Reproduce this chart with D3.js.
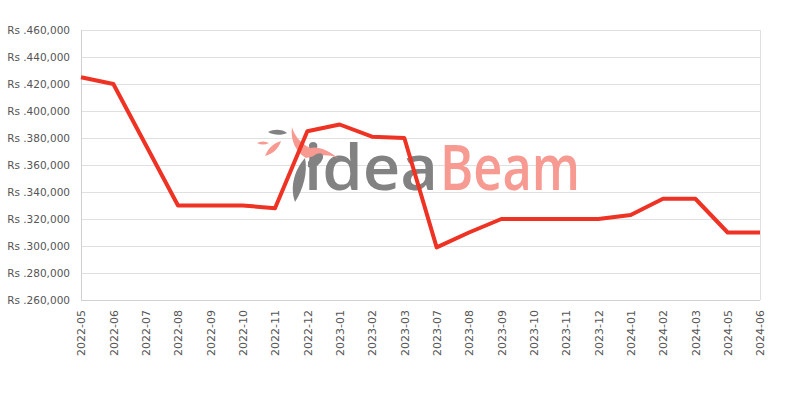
<!DOCTYPE html>
<html><head><meta charset="utf-8">
<script src="https://cdn.jsdelivr.net/npm/d3@7"></script>
<style>body{margin:0;background:#fff}</style>
</head><body>
<svg id="c" width="800" height="400"></svg>
<script>
const categories = ["2022-05","2022-06","2022-07","2022-08","2022-09","2022-10","2022-11","2022-12","2023-01","2023-02","2023-03","2023-07","2023-08","2023-09","2023-10","2023-11","2023-12","2024-01","2024-02","2024-03","2024-05","2024-06"];
const prices = [425000,420000,375000,330000,330000,330000,328000,385000,390000,381000,380000,299000,310000,320000,320000,320000,320000,323000,335000,335000,310000,310000];
const yTicks = [260000,280000,300000,320000,340000,360000,380000,400000,420000,440000,460000];

const svg = d3.select("#c");
const m = {l:81, r:760, t:30, b:300};
const x = d3.scalePoint().domain(categories).range([m.l, m.r]);
const y = d3.scaleLinear().domain([260000,460000]).range([m.b, m.t]);
const fmt = v => "Rs ." + d3.format(",")(v);

// grid
svg.append("g").selectAll("line").data(yTicks).join("line")
  .attr("x1", m.l).attr("x2", m.r)
  .attr("y1", d=>y(d)+0.5).attr("y2", d=>y(d)+0.5)
  .attr("stroke", "#e0e0e0").attr("stroke-width",1);
svg.append("line").attr("x1",m.r+0.5).attr("x2",m.r+0.5).attr("y1",m.t).attr("y2",m.b).attr("stroke","#e0e0e0");
svg.append("line").attr("x1",m.l+0.5).attr("x2",m.l+0.5).attr("y1",m.t).attr("y2",m.b+0.5).attr("stroke","#d0d0d0");
svg.append("line").attr("x1",m.l).attr("x2",m.r).attr("y1",m.b+0.5).attr("y2",m.b+0.5).attr("stroke","#d0d0d0");

// y labels
const yAxis = d3.axisLeft(y).tickValues(yTicks).tickFormat(fmt).tickSize(0).tickPadding(11);
const ga = svg.append("g").attr("transform",`translate(${m.l},0)`).call(yAxis);
ga.select(".domain").remove();
ga.selectAll("text").attr("font-family","DejaVu Sans").attr("font-size","10.5px").attr("fill","#555");

// x labels
const xAxis = d3.axisBottom(x).tickSize(0).tickPadding(0);
const gx = svg.append("g").attr("transform",`translate(0,${m.b})`).call(xAxis);
gx.select(".domain").remove();
gx.selectAll("text")
  .attr("font-family","DejaVu Sans").attr("font-size","11px").attr("fill","#555")
  .attr("transform","rotate(-90)").attr("text-anchor","end")
  .attr("x",-10).attr("y",0).attr("dy","0.35em");

// watermark
const wm = svg.append("g");
wm.append("text").attr("x",304).attr("y",190).attr("font-family","Open Sans").attr("font-weight",600).attr("font-size",64)
  .attr("fill","#828282").attr("textLength",134).attr("lengthAdjust","spacingAndGlyphs").text("idea");
wm.append("text").attr("x",440).attr("y",190).attr("font-family","Open Sans").attr("font-weight",600).attr("font-size",64)
  .attr("fill","#f79a91").attr("textLength",140).attr("lengthAdjust","spacingAndGlyphs").text("Beam");
// simple bird/leaf logo
wm.append("path").attr("d","M292,127 C294,135 300,143 310,148 C318,146 328,150 338,158 C326,153 316,156 306,158 C296,152 290,140 292,127Z").attr("fill","#f79a91");
wm.append("path").attr("d","M268,132 C274,129 282,129 287,133 C281,136 273,135 268,132Z").attr("fill","#828282");
wm.append("path").attr("d","M265,156 C268,148 274,143 281,141 C279,148 273,154 265,156Z").attr("fill","#f79a91");
wm.append("path").attr("d","M257,143 C261,141 265,141 269,143 C265,145 261,145 257,143Z").attr("fill","#f79a91");
wm.append("path").attr("d","M305,158 C296,168 289,185 295,202 C303,190 308,172 305,158Z").attr("fill","#828282");
wm.append("path").attr("d","M308,162 C314,153 324,150 323,158 C320,166 313,169 308,167Z").attr("fill","#828282");

// line
const line = d3.line().x((d,i)=>x(categories[i])).y(d=>y(d));
svg.append("path").datum(prices).attr("d",line)
  .attr("fill","none").attr("stroke","#ee3224").attr("stroke-width",4).attr("stroke-linejoin","round");
</script>
</body></html>
